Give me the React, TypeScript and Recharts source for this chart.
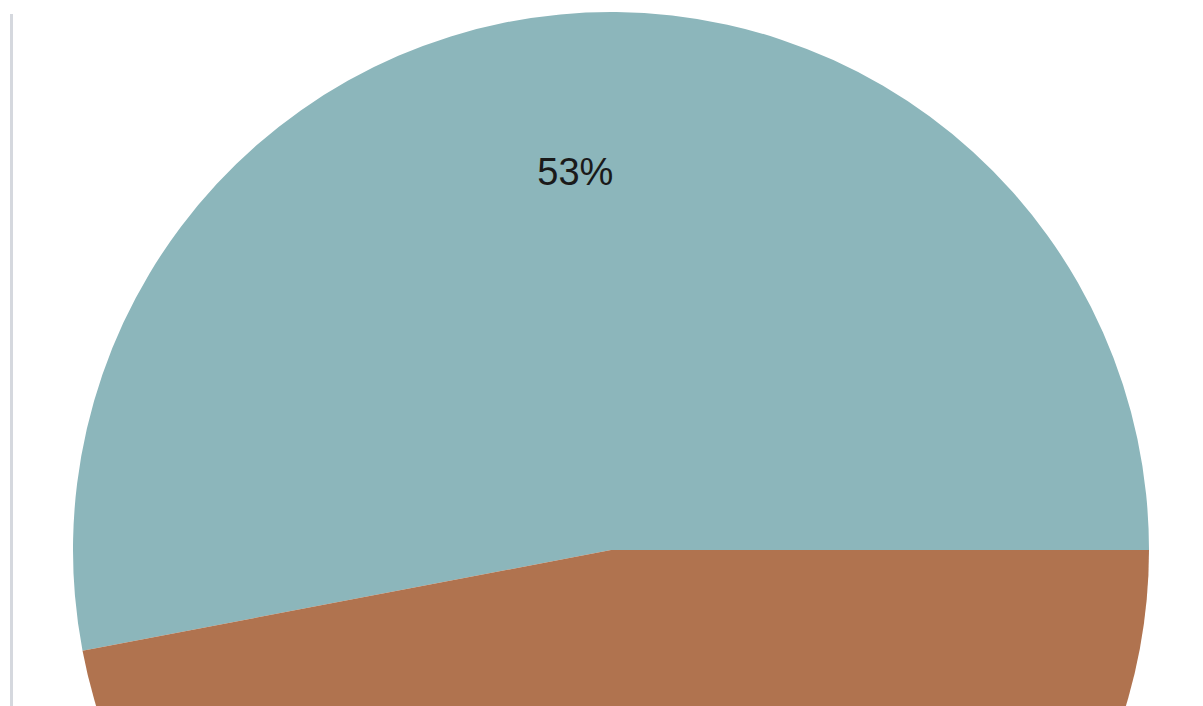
import React from "react";
import { PieChart, Pie, Cell } from "recharts";

const categories = ["A", "B"];
const values = [53, 47];
const colors = ["#8cb6bb", "#b0734f"];

const data = categories.map((name, i) => ({ name, value: values[i] }));
const total = values.reduce((a, b) => a + b, 0);

const RAD = Math.PI / 180;

const renderLabel = (props: any) => {
  const { cx, cy, midAngle, outerRadius, value, index } = props;
  const r = outerRadius * 0.705;
  const x = cx + r * Math.cos(-midAngle * RAD);
  const y = cy + r * Math.sin(-midAngle * RAD);
  // only labels that fall inside the visible frame are drawn
  if (y > 690 || y < 0) return null;
  return (
    <text
      key={`lbl-${index}`}
      x={x}
      y={y}
      fill="#1a1a1a"
      textAnchor="middle"
      dominantBaseline="central"
      fontSize={38}
      fontFamily="'Liberation Sans', Arial, sans-serif"
    >
      {`${Math.round((value / total) * 100)}%`}
    </text>
  );
};

export default function App() {
  return (
    <div
      style={{
        position: "fixed",
        left: 0,
        top: 0,
        width: 1203,
        height: 706,
        overflow: "hidden",
        background: "#ffffff",
      }}
    >
      <div
        style={{
          position: "absolute",
          left: 10,
          top: 14,
          width: 3,
          height: 692,
          background: "#d5d8de",
        }}
      />
      <div style={{ position: "absolute", left: 0, top: 0 }}>
        <PieChart
          width={1203}
          height={706}
          margin={{ top: 0, right: 0, bottom: 0, left: 0 }}
        >
          <Pie
            data={data}
            dataKey="value"
            nameKey="name"
            cx={611}
            cy={550}
            outerRadius={538}
            innerRadius={0}
            startAngle={0}
            endAngle={360}
            stroke="none"
            label={renderLabel}
            labelLine={false}
            isAnimationActive={false}
          >
            {data.map((d, i) => (
              <Cell key={d.name} fill={colors[i]} />
            ))}
          </Pie>
        </PieChart>
      </div>
    </div>
  );
}
